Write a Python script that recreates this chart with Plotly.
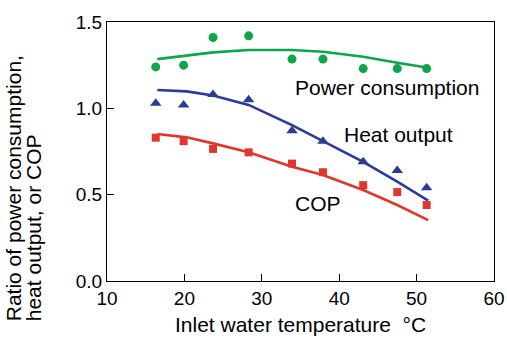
import plotly.graph_objects as go

# Measured points
temps_meas = [16.3, 19.9, 23.7, 28.3, 33.9, 37.9, 43.1, 47.5, 51.3]
power_meas = [1.24, 1.25, 1.41, 1.42, 1.285, 1.285, 1.23, 1.23, 1.23]
heat_meas = [1.03, 1.02, 1.08, 1.05, 0.87, 0.81, 0.69, 0.64, 0.54]
cop_meas = [0.83, 0.81, 0.765, 0.745, 0.68, 0.63, 0.555, 0.515, 0.44]

# Calculated curves
temps_calc = [16.5, 20.3, 23.7, 28.3, 33.9, 37.9, 43.1, 47.5, 51.5]
power_calc = [1.285, 1.305, 1.324, 1.338, 1.338, 1.328, 1.299, 1.264, 1.235]
heat_calc = [1.106, 1.098, 1.074, 1.02, 0.903, 0.81, 0.69, 0.575, 0.465]
cop_calc = [0.851, 0.832, 0.797, 0.745, 0.662, 0.614, 0.527, 0.44, 0.353]

x_ticks = [10, 20, 30, 40, 50, 60]
y_ticks = [0.0, 0.5, 1.0, 1.5]

GREEN = "#0ea54b"
BLUE = "#2c3a98"
RED = "#e0372d"
FONT = "Liberation Sans, Arial, Helvetica, sans-serif"

fig = go.Figure()
fig.add_trace(go.Scatter(x=temps_calc, y=power_calc, mode="lines",
                         line=dict(color=GREEN, width=2.6)))
fig.add_trace(go.Scatter(x=temps_calc, y=heat_calc, mode="lines",
                         line=dict(color=BLUE, width=2.6)))
fig.add_trace(go.Scatter(x=temps_calc, y=cop_calc, mode="lines",
                         line=dict(color=RED, width=2.6)))
fig.add_trace(go.Scatter(x=temps_meas, y=power_meas, mode="markers",
                         marker=dict(symbol="circle", size=9, color=GREEN)))
fig.add_trace(go.Scatter(x=temps_meas, y=heat_meas, mode="markers",
                         marker=dict(symbol="triangle-up", size=10, color=BLUE)))
fig.add_trace(go.Scatter(x=temps_meas, y=cop_meas, mode="markers",
                         marker=dict(symbol="square", size=8, color=RED)))

annots = [
    dict(x=34.0, y=1.118, text="Power consumption"),
    dict(x=40.4, y=0.851, text="Heat output"),
    dict(x=34.0, y=0.446, text="COP"),
]
for a in annots:
    fig.add_annotation(x=a["x"], y=a["y"], xref="x", yref="y", text=a["text"],
                       showarrow=False, xanchor="left", yanchor="middle",
                       font=dict(family=FONT, size=21, color="black"))

# Two-line y-axis title as rotated annotations
ytitle_lines = ["Ratio of power consumption,", "heat output, or COP"]
ytitle_x = [-0.2416, -0.1912]
for txt, xp in zip(ytitle_lines, ytitle_x):
    fig.add_annotation(x=xp, y=-0.165, xref="paper", yref="paper", text=txt,
                       showarrow=False, textangle=-90, xanchor="center",
                       yanchor="bottom",
                       font=dict(family=FONT, size=21, color="black"))

# x-axis title as annotation (keeps plot area fixed)
fig.add_annotation(x=0.5, y=-0.168, xref="paper", yref="paper",
                   text="Inlet water temperature  °C", showarrow=False,
                   xanchor="center", yanchor="middle",
                   font=dict(family=FONT, size=21, color="black"))

fig.update_layout(
    width=507, height=338,
    margin=dict(l=107, r=13, t=22, b=57),
    paper_bgcolor="white", plot_bgcolor="white",
    showlegend=False,
    font=dict(family=FONT, size=19, color="black"),
    xaxis=dict(range=[10, 60], tickvals=x_ticks, ticks="inside", ticklen=7,
               tickwidth=1.3, tickcolor="black", showline=True, linecolor="black",
               linewidth=1.3, mirror=True, showgrid=False, zeroline=False,
               tickfont=dict(size=19), automargin=False),
    yaxis=dict(range=[0, 1.5], tickvals=y_ticks, tickformat=".1f", ticks="inside",
               ticklen=7, tickwidth=1.3, tickcolor="black", showline=True,
               linecolor="black", linewidth=1.3, mirror=True, showgrid=False,
               zeroline=False, tickfont=dict(size=19), automargin=False),
)

fig.write_html("out.html")
